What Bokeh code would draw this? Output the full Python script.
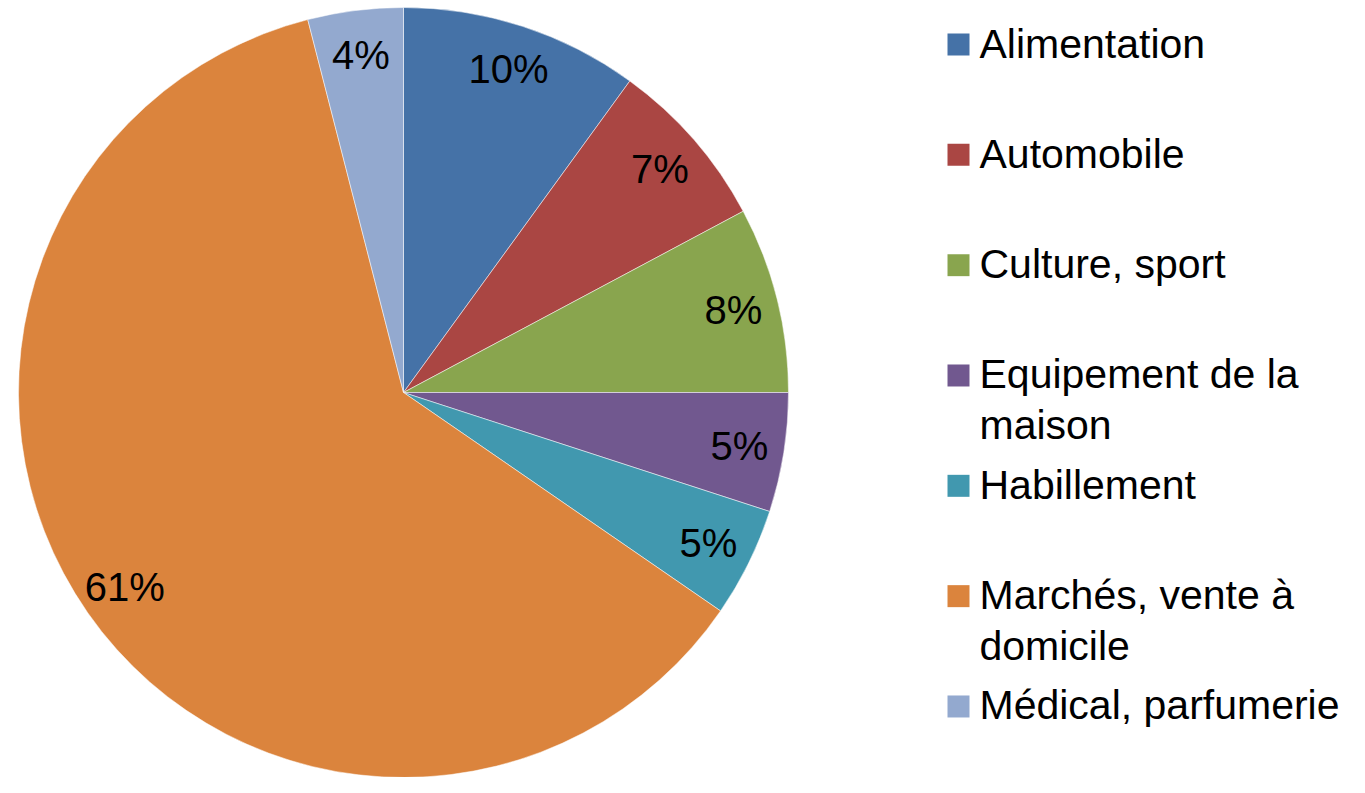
import numpy as np
from bokeh.plotting import figure
from bokeh.models import Range1d, ColumnDataSource
from bokeh.core.properties import value
from bokeh.embed import file_html
from bokeh.resources import INLINE

# ---- data ----
categories = ["Alimentation", "Automobile", "Culture, sport", "Equipement de la maison",
              "Habillement", "Marchés, vente à domicile", "Médical, parfumerie"]
legend_lines = [["Alimentation"], ["Automobile"], ["Culture, sport"],
                ["Equipement de la", "maison"], ["Habillement"],
                ["Marchés, vente à", "domicile"], ["Médical, parfumerie"]]
shares = [10.0, 7.2, 7.8, 5.0, 4.6, 61.4, 4.0]
pct_labels = ["10%", "7%", "8%", "5%", "5%", "61%", "4%"]
colors = ["#4572A7", "#AA4643", "#89A54E", "#71588F", "#4198AF", "#DB843D", "#93A9CF"]

# ---- layout (screen-pixel coordinates, y measured from top) ----
W, H = 1349, 777
cx, cy_s, R = 403, 392, 385
label_r = 340
font = "Liberation Sans"

def sy(y_screen):
    return H - np.asarray(y_screen, dtype=float)

p = figure(width=W, height=H, x_range=Range1d(0, W), y_range=Range1d(0, H),
           output_backend="svg", toolbar_location=None, min_border=0)
p.axis.visible = False
p.grid.visible = False
p.outline_line_color = None
p.background_fill_color = "white"

vals = np.array(shares, dtype=float)
frac = vals / vals.sum()
c1 = np.cumsum(frac)
c0 = c1 - frac
start = np.pi / 2 - 2 * np.pi * c0
end = np.pi / 2 - 2 * np.pi * c1
mid = (start + end) / 2
cy = float(sy(cy_s))

src = ColumnDataSource(dict(start=start, end=end, color=colors))
p.wedge(x=cx, y=cy, radius=R, start_angle="start", end_angle="end", direction="clock",
        fill_color="color", line_color="white", line_width=0.5, source=src)

lsrc = ColumnDataSource(dict(x=cx + label_r * np.cos(mid), y=cy + label_r * np.sin(mid),
                             t=pct_labels))
p.text(x="x", y="y", text="t", source=lsrc, text_font=value(font), text_font_size="40px",
       text_align="center", text_baseline="middle", text_color="black")

# ---- legend ----
sq_x, txt_x = 958, 979
top_c, step = 44, 110.33
line_h = 51
sq_ys = [top_c + i * step for i in range(len(categories))]
p.rect(x=sq_x, y=sy(sq_ys), width=22, height=22, fill_color=colors, line_color=None)
tx, ty, tt = [], [], []
for i, lines in enumerate(legend_lines):
    for j, ln in enumerate(lines):
        tx.append(txt_x)
        ty.append(float(sy(sq_ys[i] - 1 + j * line_h)))
        tt.append(ln)
p.text(x=tx, y=ty, text=tt, text_font=value(font), text_font_size="41px",
       text_align="left", text_baseline="middle", text_color="black")

open("out.html", "w").write(file_html(p, INLINE))
